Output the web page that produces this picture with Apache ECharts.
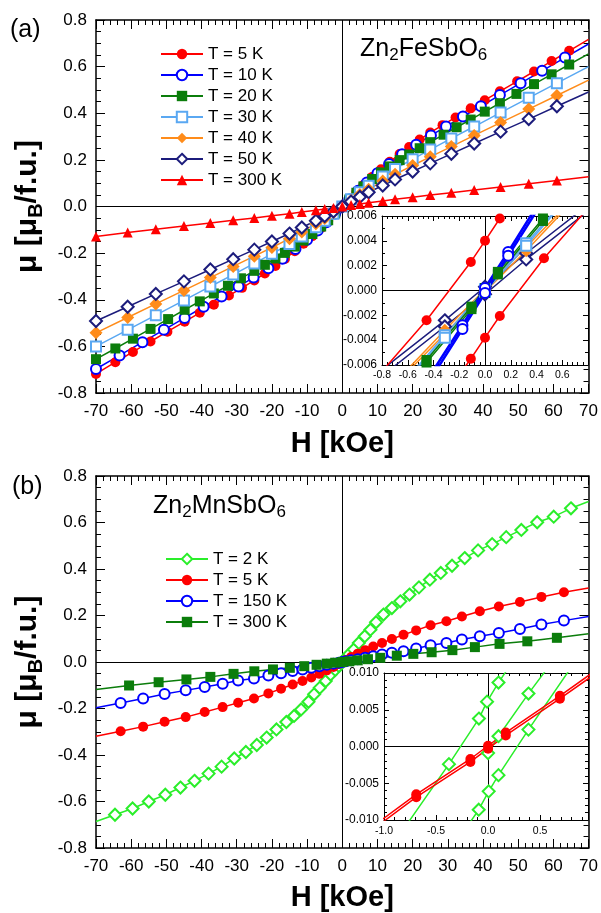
<!DOCTYPE html>
<html><head><meta charset="utf-8">
<script src="https://cdn.jsdelivr.net/npm/echarts@6/dist/echarts.min.js"></script>
<style>html,body{margin:0;padding:0;background:#fff}#c{width:601px;height:913px}</style>
</head><body><div id="c"></div>
<script>
// ---------- Panel (a): Zn2FeSbO6 ----------
const TOP_NAMES = ['T = 5 K','T = 10 K','T = 20 K','T = 30 K','T = 40 K','T = 50 K','T = 300 K'];
const H_5K = [-70,-64.5,-59.5,-54.5,-49.7,-44.8,-40.5,-36.5,-32.2,-28.5,-25,-22,-19,-16.3,-13.5,-11,-8.5,-6,-4,-2,0,2,4,6,8.5,11,13.5,16.3,19,22,25,28.5,32.2,36.5,40.5,44.8,49.7,54.5,59.5,64.5,70];
const M_5K = [-0.718,-0.668,-0.624,-0.579,-0.537,-0.494,-0.456,-0.421,-0.382,-0.349,-0.317,-0.287,-0.255,-0.225,-0.192,-0.160,-0.127,-0.092,-0.062,-0.031,0,0.031,0.062,0.092,0.127,0.160,0.192,0.225,0.255,0.287,0.317,0.349,0.382,0.421,0.456,0.494,0.537,0.579,0.624,0.668,0.717];
const H_10K = [-70,-63.3,-56.8,-50.7,-44.8,-39.4,-34.3,-29.5,-25.2,-21,-17,-13.3,-10,-7,-4.5,-2,0,2,4.5,7,10,13.3,17,21,25.2,29.5,34.3,39.4,44.8,50.7,56.8,63.3,70];
const M_10K = [-0.697,-0.639,-0.582,-0.529,-0.478,-0.430,-0.386,-0.343,-0.305,-0.265,-0.224,-0.182,-0.143,-0.103,-0.068,-0.030,0,0.030,0.068,0.103,0.143,0.182,0.224,0.265,0.305,0.343,0.386,0.430,0.478,0.529,0.582,0.639,0.697];
const H_20K = [-70,-64.5,-59.5,-54.5,-49.5,-44.8,-40.5,-36.5,-32.5,-28.8,-25,-22,-19,-16.3,-13.5,-11,-8.5,-6,-4,-2,0,2,4,6,8.5,11,13.5,16.3,19,22,25,28.8,32.5,36.5,40.5,44.8,49.5,54.5,59.5,64.5,70];
const M_20K = [-0.655,-0.609,-0.567,-0.525,-0.483,-0.443,-0.407,-0.373,-0.340,-0.308,-0.276,-0.250,-0.223,-0.199,-0.172,-0.146,-0.118,-0.086,-0.059,-0.030,0,0.030,0.059,0.086,0.118,0.146,0.172,0.199,0.223,0.250,0.276,0.308,0.340,0.373,0.407,0.443,0.483,0.525,0.567,0.609,0.655];
const H_S1 = [-70,-61,-53,-45,-37.5,-31,-25,-20,-15,-11.5,-7.5,-5,-2.5,0,2.5,5,7.5,11.5,15,20,25,31,37.5,45,53,61,70];
const M_30K = [-0.600,-0.529,-0.466,-0.403,-0.343,-0.292,-0.244,-0.203,-0.161,-0.129,-0.089,-0.061,-0.031,0,0.031,0.061,0.089,0.129,0.161,0.203,0.244,0.292,0.343,0.403,0.466,0.529,0.600];
const M_40K = [-0.542,-0.476,-0.418,-0.360,-0.305,-0.257,-0.213,-0.176,-0.138,-0.109,-0.074,-0.051,-0.026,0,0.026,0.051,0.074,0.109,0.138,0.176,0.213,0.257,0.305,0.360,0.418,0.476,0.542];
const M_50K = [-0.491,-0.430,-0.375,-0.321,-0.270,-0.226,-0.185,-0.150,-0.116,-0.090,-0.061,-0.041,-0.021,0,0.021,0.041,0.061,0.090,0.116,0.150,0.185,0.226,0.270,0.321,0.375,0.430,0.491];
const M_300K = [-0.129,-0.112,-0.098,-0.084,-0.071,-0.059,-0.049,-0.040,-0.031,-0.024,-0.016,-0.011,-0.006,0,0.006,0.011,0.016,0.024,0.031,0.040,0.049,0.059,0.071,0.084,0.098,0.112,0.128];

// inset (a): two branches of each loop
const IA_H_5Ka = [-0.9,-0.454,-0.11,0,0.115,0.45];
const IA_M_5Ka = [-0.0077,-0.0024,0.0023,0.0040,0.0058,0.0105];
const IA_H_5Kb = [-0.45,-0.11,0,0.115,0.458,0.9];
const IA_M_5Kb = [-0.0104,-0.0055,-0.0038,-0.00205,0.0026,0.0078];
const IA_H_10K = [-0.9,-0.45,-0.175,0,0.18,0.45,0.9];
const IA_M_10Ka = [-0.0148,-0.0072,-0.0028,0.0002,0.0031,0.0076,0.0151];
const IA_M_10Kb = [-0.0151,-0.0076,-0.0031,-0.0002,0.0028,0.0072,0.0148];
const IA_H_20K = [-0.9,-0.454,-0.105,0,0.1,0.45,0.9];
const IA_M_20Ka = [-0.0112,-0.0056,-0.0013,0.0002,0.0015,0.0058,0.0114];
const IA_M_20Kb = [-0.0114,-0.0058,-0.0015,-0.0002,0.0013,0.0056,0.0112];
const IA_H_S = [-0.9,-0.312,0,0.32,0.9];
const IA_M_30Ka = [-0.0106,-0.0036,0.0001,0.0038,0.0106];
const IA_M_30Kb = [-0.0106,-0.0038,-0.0001,0.0036,0.0106];
const IA_M_40Ka = [-0.0096,-0.0032,0.0001,0.0035,0.0097];
const IA_M_40Kb = [-0.0097,-0.0035,-0.0001,0.0032,0.0096];
const IA_M_50Ka = [-0.0072,-0.0024,0.0003,0.0030,0.0077];
const IA_M_50Kb = [-0.0077,-0.0029,-0.0003,0.0025,0.0072];

// ---------- Panel (b): Zn2MnSbO6 ----------
const BOT_NAMES = ['T = 2 K','T = 5 K','T = 150 K','T = 300 K'];
const H_2K = [-70,-64.6,-59.6,-55,-50.3,-46,-42,-38,-34.3,-30.7,-27.4,-24.3,-21.5,-18.7,-15.9,-13.7,-11.7,-9.6,-8,-6.4,-4.7,-3.3,-2,-1,0,1,2,3.3,4.7,6.4,8,9.6,11.7,14.1,16.5,19.1,21.8,24.9,28,31.2,34.8,38.6,42.6,46.6,50.9,55.4,60.1,65,70];
const M_2K = [-0.686,-0.657,-0.630,-0.600,-0.571,-0.540,-0.511,-0.480,-0.450,-0.415,-0.387,-0.357,-0.325,-0.290,-0.258,-0.232,-0.204,-0.171,-0.139,-0.111,-0.082,-0.054,-0.034,-0.017,0,0.017,0.034,0.054,0.082,0.111,0.139,0.171,0.204,0.232,0.261,0.290,0.321,0.354,0.383,0.414,0.447,0.480,0.507,0.537,0.568,0.601,0.625,0.661,0.690];
const H_B = [-70,-63,-56.6,-50.5,-44.5,-39.1,-34,-29.6,-25.1,-21,-17.4,-14.1,-11.3,-8.8,-6.5,-4.4,-2.5,-1,0,1,2.5,4.4,6.5,8.8,11.3,14.1,17.4,21,25.1,29.6,34,39.1,44.5,50.5,56.6,63,70];
const M_B5K = [-0.319,-0.298,-0.278,-0.257,-0.237,-0.215,-0.194,-0.175,-0.157,-0.135,-0.115,-0.097,-0.082,-0.067,-0.051,-0.036,-0.021,-0.009,0,0.009,0.021,0.036,0.051,0.067,0.082,0.099,0.117,0.136,0.158,0.175,0.196,0.218,0.239,0.258,0.280,0.300,0.318];
const M_B150K = [-0.197,-0.176,-0.157,-0.138,-0.122,-0.108,-0.094,-0.080,-0.071,-0.058,-0.048,-0.039,-0.032,-0.025,-0.018,-0.012,-0.007,-0.003,0,0.003,0.007,0.012,0.018,0.025,0.032,0.040,0.046,0.058,0.072,0.082,0.097,0.111,0.125,0.142,0.161,0.178,0.196];
const H_B300K = [-70,-60.6,-52.2,-44.3,-37.5,-30.9,-25,-19.7,-14.9,-10.8,-7.3,-4.4,-2,0,2,4.4,7.3,10.8,15.5,20.2,25.4,31.3,37.7,44.7,52.6,61,70];
const M_B300K = [-0.118,-0.101,-0.087,-0.075,-0.064,-0.051,-0.040,-0.032,-0.025,-0.018,-0.012,-0.007,-0.003,0,0.003,0.007,0.012,0.018,0.027,0.035,0.042,0.051,0.064,0.078,0.089,0.104,0.121];

// inset (b)
const IB_H_2Ka = [-0.8,-0.376,-0.088,-0.01,0.1,0.4];
const IB_M_2Ka = [-0.0110,-0.0024,0.0038,0.0061,0.0087,0.0150];
const IB_H_2Kb = [-0.4,-0.09,0.006,0.10,0.388,0.8];
const IB_M_2Kb = [-0.0150,-0.0086,-0.0061,-0.0039,0.0023,0.0108];
const IB_H_2Kv = [0,0.10,0.388,0.8];
const IB_M_2Kv = [-0.0009,0.0014,0.0072,0.0150];
const IB_H_5K = [-1.1,-0.69,-0.17,0,0.17,0.69,1.1];
const IB_M_5Ka = [-0.0108,-0.0065,-0.0017,0.0001,0.0019,0.0069,0.0110];
const IB_M_5Kb = [-0.0112,-0.0069,-0.0021,-0.0003,0.0015,0.0065,0.0106];

// ---------- styling ----------
const FONT = 'Liberation Sans, Arial, sans-serif';
const C = {red:'#ff0000', blue:'#0000ff', green:'#0b7d0b', lblue:'#5aa8f2', orange:'#ff8c1a', navy:'#1c1c7c', lime:'#2aee2a'};

function pts(H, M, hideFirst, hideLast) {
  return H.map((h, i) => {
    const it = {value: [h, M[i]]};
    if ((hideFirst && i === 0) || (hideLast && i === H.length - 1)) it.symbol = 'none';
    return it;
  });
}
function ser(name, data, st, xi, yi, z) {
  return {
    name: name, type: 'line', xAxisIndex: xi, yAxisIndex: yi, data: data, z: z || 2,
    symbol: st.symbol, symbolSize: st.size, color: st.color,
    itemStyle: {color: st.color, borderWidth: st.bw || 1.5},
    lineStyle: {color: st.color, width: st.lw || 1.5},
    emphasis: {disabled: true}, silent: true, clip: true
  };
}
const ST = {
  t5: {symbol: 'circle', size: 10, color: C.red},
  t10: {symbol: 'emptyCircle', size: 10, color: C.blue},
  t20: {symbol: 'rect', size: 10, color: C.green},
  t30: {symbol: 'emptyRect', size: 10, color: C.lblue},
  t40: {symbol: 'diamond', size: 13, color: C.orange},
  t50: {symbol: 'emptyDiamond', size: 12, color: C.navy},
  t300: {symbol: 'triangle', size: 10, color: C.red},
  b2: {symbol: 'emptyDiamond', size: 12, color: C.lime},
  b5: {symbol: 'circle', size: 10, color: C.red},
  b150: {symbol: 'emptyCircle', size: 10, color: C.blue},
  b300: {symbol: 'rect', size: 10, color: C.green}
};

function zeroSeries(xi, yi, z) {
  return {type: 'line', xAxisIndex: xi, yAxisIndex: yi, data: [], silent: true, z: z,
    markLine: {silent: true, z: z, symbol: ['none', 'none'], label: {show: false}, animation: false,
      lineStyle: {color: '#000', width: 1, type: 'solid'}, emphasis: {disabled: true},
      data: [{yAxis: 0}, {xAxis: 0}]}};
}

function xAx(grid, pos, min, max, interval, minorSplit, opt) {
  const o = Object.assign({lw: 1.5, tick: 9, minor: 5, fs: 17, margin: 10, z: 0, labels: true}, opt || {});
  return {
    type: 'value', gridIndex: grid, position: pos, min: min, max: max, interval: interval, z: o.z,
    axisLine: {show: true, onZero: false, lineStyle: {color: '#000', width: o.lw}},
    axisTick: {show: true, inside: true, length: o.tick, lineStyle: {color: '#000', width: 1}},
    minorTick: {show: true, splitNumber: minorSplit, length: o.minor, lineStyle: {color: '#000', width: 1}},
    splitLine: {show: false}, minorSplitLine: {show: false},
    axisLabel: {show: o.labels, fontSize: o.fs, color: '#000', fontFamily: FONT, margin: o.margin,
      formatter: o.fmt, showMaxLabel: o.showMax !== false, showMinLabel: true},
    name: o.name, nameLocation: 'middle', nameGap: o.nameGap, nameRotate: o.nameRotate,
    nameTextStyle: o.nameStyle
  };
}
const yAx = xAx;
const fmt1 = v => Math.abs(v) < 1e-9 ? '0.0' : v.toFixed(1);
const fmt3 = v => Math.abs(v) < 1e-9 ? '0.000' : v.toFixed(3);
const fmtHalf = v => Math.abs(v * 2 - Math.round(v * 2)) < 1e-6 ? (Math.abs(v) < 1e-9 ? '0.0' : v.toFixed(1)) : '';

const hName = {fontSize: 29, fontWeight: 'bold', color: '#000', fontFamily: FONT};
const muName = {color: '#000', fontFamily: FONT, rich: {
  a: {fontSize: 30, fontWeight: 'bold', fontFamily: FONT, color: '#000', lineHeight: 36, verticalAlign: 'middle'},
  s: {fontSize: 20, fontWeight: 'bold', fontFamily: FONT, color: '#000', lineHeight: 16, verticalAlign: 'bottom'}
}};
const MU_TEXT = '{a|μ [μ}{s|B}{a|/f.u.]}';

const compRich = {
  n: {fontSize: 25, fontWeight: 'normal', fontFamily: FONT, color: '#000', lineHeight: 30, verticalAlign: 'middle'},
  s: {fontSize: 17, fontWeight: 'normal', fontFamily: FONT, color: '#000', lineHeight: 14, verticalAlign: 'bottom'}
};

const series = [];
series.push(zeroSeries(0, 0, 1));
series.push(zeroSeries(4, 4, 1));
// main (a)
series.push(ser(TOP_NAMES[0], pts(H_5K, M_5K, false, true), ST.t5, 0, 0));
series.push(ser(TOP_NAMES[1], pts(H_10K, M_10K, false, true), ST.t10, 0, 0));
series.push(ser(TOP_NAMES[2], pts(H_20K, M_20K, false, true), ST.t20, 0, 0));
series.push(ser(TOP_NAMES[3], pts(H_S1, M_30K, false, true), ST.t30, 0, 0));
series.push(ser(TOP_NAMES[4], pts(H_S1, M_40K, false, true), ST.t40, 0, 0));
series.push(ser(TOP_NAMES[5], pts(H_S1, M_50K, false, true), ST.t50, 0, 0));
series.push(ser(TOP_NAMES[6], pts(H_S1, M_300K, false, true), ST.t300, 0, 0));
// main (b)
const BN = BOT_NAMES.map(n => n + '\u200b');
series.push(ser(BN[0], pts(H_2K, M_2K, true, true), ST.b2, 4, 4));
series.push(ser(BN[1], pts(H_B, M_B5K, true, true), ST.b5, 4, 4));
series.push(ser(BN[2], pts(H_B, M_B150K, true, true), ST.b150, 4, 4));
series.push(ser(BN[3], pts(H_B300K, M_B300K, true, true), ST.b300, 4, 4));
// inset (a)
series.push(zeroSeries(2, 2, 6));
const ia = [
  [IA_H_S, IA_M_50Ka, ST.t50], [IA_H_S, IA_M_50Kb, ST.t50],
  [IA_H_S, IA_M_40Ka, ST.t40], [IA_H_S, IA_M_40Kb, ST.t40],
  [IA_H_S, IA_M_30Ka, ST.t30], [IA_H_S, IA_M_30Kb, ST.t30],
  [IA_H_20K, IA_M_20Ka, ST.t20], [IA_H_20K, IA_M_20Kb, ST.t20],
  [IA_H_10K, IA_M_10Ka, Object.assign({}, ST.t10, {lw: 2.5})], [IA_H_10K, IA_M_10Kb, Object.assign({}, ST.t10, {lw: 2.5})],
  [IA_H_5Ka, IA_M_5Ka, ST.t5], [IA_H_5Kb, IA_M_5Kb, ST.t5]
];
ia.forEach((d, i) => series.push(ser('ia' + i, pts(d[0], d[1]), d[2], 2, 2, 7)));
// inset (b)
series.push(zeroSeries(6, 6, 6));
const ib = [
  [IB_H_2Ka, IB_M_2Ka, ST.b2], [IB_H_2Kb, IB_M_2Kb, ST.b2], [IB_H_2Kv, IB_M_2Kv, ST.b2],
  [IB_H_5K, IB_M_5Ka, ST.b5], [IB_H_5K, IB_M_5Kb, ST.b5]
];
ib.forEach((d, i) => series.push(ser('ib' + i, pts(d[0], d[1]), d[2], 6, 6, 7)));

const option = {
  animation: false,
  backgroundColor: '#fff',
  textStyle: {fontFamily: FONT},
  title: [
    {text: '(a)', left: 10, top: 18, padding: 0, textStyle: {fontSize: 25, fontWeight: 'normal', color: '#000', fontFamily: FONT}},
    {text: '(b)', left: 12, top: 475, padding: 0, textStyle: {fontSize: 25, fontWeight: 'normal', color: '#000', fontFamily: FONT}},
    {text: '{n|Zn}{s|2}{n|FeSbO}{s|6}', left: 360, top: 34, padding: 0, textStyle: {fontWeight: 'normal', rich: compRich}},
    {text: '{n|Zn}{s|2}{n|MnSbO}{s|6}', left: 153, top: 491, padding: 0, textStyle: {fontWeight: 'normal', rich: compRich}}
  ],
  legend: [
    {orient: 'vertical', left: 160, top: 45, itemWidth: 42, itemHeight: 13, itemGap: 3, padding: 0,
     textStyle: {fontSize: 17, color: '#000', fontFamily: FONT, lineHeight: 18}, data: TOP_NAMES, selectedMode: false},
    {orient: 'vertical', left: 165, top: 550, itemWidth: 42, itemHeight: 13, itemGap: 3, padding: 0,
     textStyle: {fontSize: 17, color: '#000', fontFamily: FONT, lineHeight: 18}, data: BN, selectedMode: false,
     formatter: n => n.replace('\u200b', '')}
  ],
  grid: [
    {left: 96, top: 20, width: 494, height: 373, containLabel: false},
    {left: 382, top: 216, width: 206, height: 149, show: true, backgroundColor: '#fff', borderWidth: 0, z: 5},
    {left: 96, top: 476, width: 495, height: 373, containLabel: false},
    {left: 384, top: 673, width: 204, height: 147, show: true, backgroundColor: '#fff', borderWidth: 0, z: 5}
  ],
  xAxis: [
    xAx(0, 'bottom', -70, 70, 10, 5, {name: 'H [kOe]', nameGap: 36, nameStyle: hName}),
    xAx(0, 'top', -70, 70, 10, 5, {labels: false}),
    xAx(1, 'bottom', -0.8, 0.8, 0.2, 5, {lw: 1, tick: 5, minor: 3, fs: 10.5, margin: 5, z: 6, fmt: fmt1, showMax: false}),
    xAx(1, 'top', -0.8, 0.8, 0.2, 5, {lw: 1, tick: 5, minor: 3, z: 6, labels: false}),
    xAx(2, 'bottom', -70, 70, 10, 5, {name: 'H [kOe]', nameGap: 35, nameStyle: hName}),
    xAx(2, 'top', -70, 70, 10, 5, {labels: false}),
    xAx(3, 'bottom', -1, 0.96, 0.5, 5, {lw: 1, tick: 5, minor: 3, fs: 10.5, margin: 6, z: 6, fmt: fmtHalf}),
    xAx(3, 'top', -1, 0.96, 0.5, 5, {lw: 1, tick: 5, minor: 3, z: 6, labels: false})
  ],
  yAxis: [
    yAx(0, 'left', -0.8, 0.8, 0.2, 4, {fmt: fmt1, margin: 9, name: MU_TEXT, nameGap: 50, nameRotate: 90, nameStyle: muName}),
    yAx(0, 'right', -0.8, 0.8, 0.2, 4, {labels: false}),
    yAx(1, 'left', -0.006, 0.006, 0.002, 2, {lw: 1, tick: 5, minor: 3, fs: 12, margin: 5, z: 6, fmt: fmt3}),
    yAx(1, 'right', -0.006, 0.006, 0.002, 2, {lw: 1, tick: 5, minor: 3, z: 6, labels: false}),
    yAx(2, 'left', -0.8, 0.8, 0.2, 4, {fmt: fmt1, margin: 9, name: MU_TEXT, nameGap: 50, nameRotate: 90, nameStyle: muName}),
    yAx(2, 'right', -0.8, 0.8, 0.2, 4, {labels: false}),
    yAx(3, 'left', -0.01, 0.01, 0.005, 5, {lw: 1, tick: 5, minor: 3, fs: 12, margin: 5, z: 6, fmt: fmt3}),
    yAx(3, 'right', -0.01, 0.01, 0.005, 5, {lw: 1, tick: 5, minor: 3, z: 6, labels: false})
  ],
  series: series
};
// map series axis indices to axes (bottom/left axis of each grid)
option.series.forEach(s => {
  const g = {0: 0, 2: 1, 4: 2, 6: 3}[s.xAxisIndex];
  s.xAxisIndex = g * 2; s.yAxisIndex = g * 2;
});
const chart = echarts.init(document.getElementById('c'), null, {renderer: 'canvas'});
chart.setOption(option);
</script></body></html>
